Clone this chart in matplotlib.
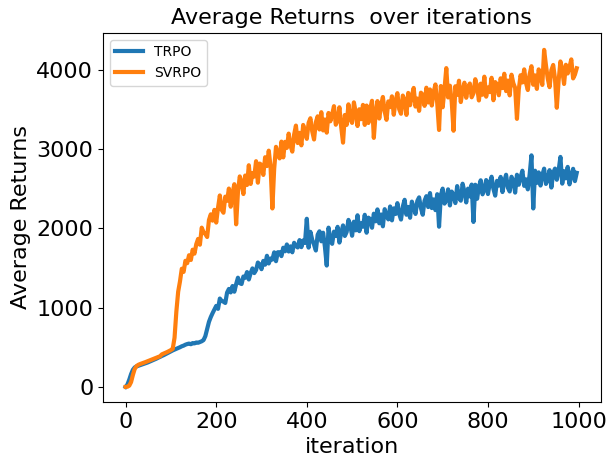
import matplotlib
matplotlib.use("Agg")
import matplotlib.pyplot as plt

iterations = list(range(0, 1000, 4))

trpo = [
    0, 30, 90, 160, 215, 245, 258, 266, 274, 282,
    290, 298, 306, 316, 326, 336, 346, 356, 368, 378,
    390, 400, 412, 424, 436, 448, 460, 470, 480, 490,
    500, 512, 520, 532, 540, 546, 538, 552, 548, 560,
    556, 566, 575, 590, 640, 730, 820, 880, 930, 975,
    1021, 984, 1114, 1084, 1074, 1058, 1189, 1235, 1191, 1272,
    1200, 1296, 1377, 1308, 1297, 1392, 1375, 1448, 1354, 1434,
    1494, 1435, 1473, 1568, 1543, 1484, 1589, 1541, 1653, 1556,
    1619, 1605, 1697, 1585, 1698, 1698, 1649, 1755, 1710, 1796,
    1707, 1772, 1697, 1817, 1777, 1758, 1851, 1762, 1847, 1814,
    2120, 1756, 1955, 1855, 1794, 1720, 1919, 1962, 1836, 1944,
    1766, 1530, 2008, 1846, 1804, 1958, 1903, 2018, 1820, 1947,
    2036, 1903, 1953, 2106, 2039, 1906, 2083, 1974, 2164, 1964,
    2063, 2019, 2170, 1944, 2134, 2116, 2007, 2184, 2088, 2238,
    2063, 2174, 2025, 2241, 2157, 2112, 2275, 2100, 2251, 2180,
    2317, 2181, 2110, 2274, 2359, 2171, 2269, 2133, 2336, 2265,
    2181, 2344, 2390, 2255, 2171, 2347, 2405, 2268, 2444, 2255,
    2364, 2229, 2430, 2020, 2417, 2500, 2311, 2355, 2491, 2288,
    2463, 2417, 2318, 2532, 2381, 2348, 2562, 2463, 2326, 2500,
    2402, 2551, 2080, 2549, 2372, 2521, 2605, 2428, 2486, 2608,
    2432, 2567, 2650, 2498, 2412, 2599, 2539, 2648, 2457, 2592,
    2675, 2511, 2464, 2650, 2602, 2450, 2675, 2549, 2644, 2726,
    2535, 2617, 2491, 2677, 2920, 2250, 2726, 2573, 2705, 2539,
    2671, 2752, 2559, 2613, 2733, 2514, 2698, 2753, 2612, 2730,
    2900, 2563, 2720, 2630, 2774, 2554, 2671, 2750, 2595, 2699,
]

svrpo = [
    0, 2, 15, 60, 150, 225, 262, 278, 288, 296,
    305, 313, 322, 331, 340, 349, 358, 367, 376, 386,
    410, 420, 430, 440, 452, 464, 480, 620, 950, 1200,
    1330, 1490, 1450, 1590, 1560, 1660, 1600, 1730, 1680, 1800,
    1866, 1793, 2008, 1952, 1927, 1890, 2105, 2176, 2096, 2232,
    2072, 2259, 2414, 2233, 2196, 2399, 2346, 2501, 2272, 2443,
    2556, 2050, 2458, 2654, 2583, 2432, 2665, 2546, 2795, 2559,
    2696, 2652, 2846, 2575, 2816, 2800, 2673, 2896, 2785, 2979,
    2775, 2250, 2751, 3027, 2930, 2881, 3093, 2894, 3090, 3014,
    3194, 3043, 2967, 3181, 3295, 3075, 3204, 3046, 3303, 3225,
    3128, 3330, 3388, 3222, 3120, 3338, 3412, 3246, 3464, 3234,
    3372, 3206, 3454, 3349, 3436, 3540, 3306, 3360, 3526, 3276,
    3080, 3429, 3304, 3563, 3374, 3329, 3588, 3463, 3290, 3501,
    3376, 3556, 3304, 3548, 3328, 3508, 3608, 3140, 3456, 3604,
    3384, 3552, 3656, 3472, 3368, 3600, 3528, 3664, 3432, 3600,
    3704, 3502, 3444, 3674, 3616, 3430, 3707, 3552, 3669, 3770,
    3535, 3636, 3481, 3710, 3683, 3544, 3773, 3586, 3751, 3548,
    3713, 3814, 3578, 3240, 3794, 3526, 3754, 4020, 3650, 3798,
    3593, 3230, 3791, 3682, 3861, 3592, 3738, 3836, 3646, 3776,
    3826, 3652, 3702, 3880, 3786, 3612, 3824, 3684, 3912, 3660,
    3776, 3717, 3898, 3615, 3844, 3817, 3678, 3891, 3768, 3949,
    3730, 3863, 3676, 3937, 3830, 3771, 3380, 3749, 3930, 3839,
    4004, 3834, 3744, 3942, 4044, 3810, 3928, 3758, 4004, 3914,
    3808, 4250, 4058, 3887, 3780, 3993, 4060, 3887, 3520, 3861,
    4104, 3994, 3820, 4062, 3952, 4034, 4130, 3890, 3938, 4018,
]

fig = plt.figure(figsize=(6.13, 4.69), dpi=100)
ax = fig.add_axes([0.168, 0.143, 0.812, 0.787])
ax.plot(iterations, trpo, color="#1f77b4", linewidth=3, label="TRPO")
ax.plot(iterations, svrpo, color="#ff7f0e", linewidth=3, label="SVRPO")
ax.set_xlim(-50, 1049)
ax.set_ylim(-190, 4465)
ax.set_xticks([0, 200, 400, 600, 800, 1000])
ax.set_yticks([0, 1000, 2000, 3000, 4000])
ax.tick_params(labelsize=16)
ax.set_xlabel("iteration", fontsize=16)
ax.set_ylabel("Average Returns", fontsize=16)
ax.set_title("Average Returns  over iterations", fontsize=16)
ax.legend(loc="upper left", fontsize=10)
fig.savefig("out.png", dpi=100)
